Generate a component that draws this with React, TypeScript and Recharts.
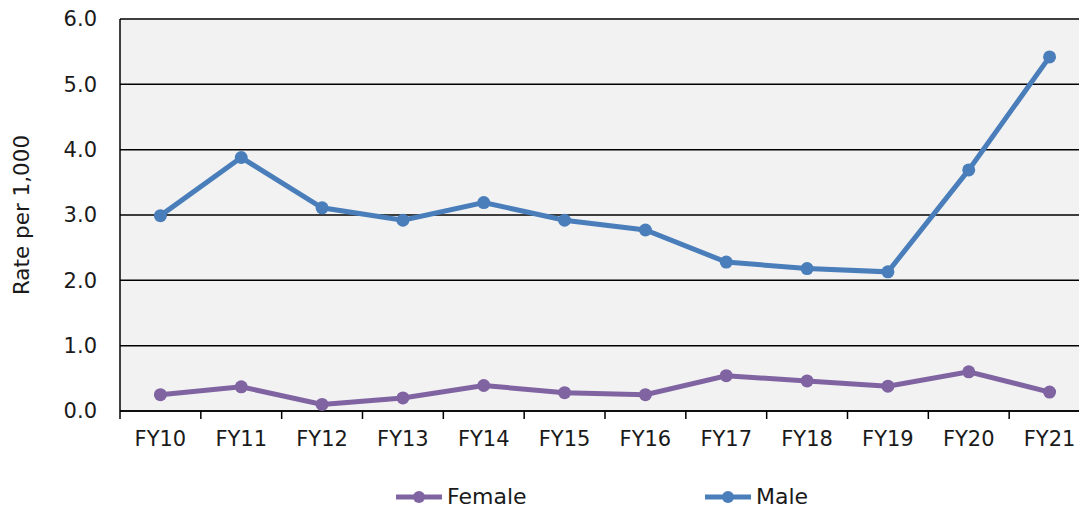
import React from 'react';
import { ComposedChart, Line, XAxis, YAxis, CartesianGrid, Legend } from 'recharts';

const categories = ['FY10', 'FY11', 'FY12', 'FY13', 'FY14', 'FY15', 'FY16', 'FY17', 'FY18', 'FY19', 'FY20', 'FY21'];
const femaleValues = [0.25, 0.37, 0.1, 0.2, 0.39, 0.28, 0.25, 0.54, 0.46, 0.38, 0.6, 0.29];
const maleValues = [2.99, 3.88, 3.11, 2.92, 3.19, 2.92, 2.77, 2.28, 2.18, 2.13, 3.69, 5.42];
const yTicks = [0, 1, 2, 3, 4, 5, 6];

const FEMALE_COLOR = '#8064A2';
const MALE_COLOR = '#4A7EBB';
const FONT = '"DejaVu Sans", Verdana, sans-serif';

const CHART_W = 1100;
const CHART_H = 509;
const MARGIN = { top: 19, right: 10, left: 0, bottom: 0 };
const Y_AXIS_W = 120;
const BAND = (CHART_W - MARGIN.left - MARGIN.right - Y_AXIS_W) / categories.length;

const data = categories.map((name, i) => ({ name, Female: femaleValues[i], Male: maleValues[i] }));

const XTick = (props: any) => {
  const { x, y, payload } = props;
  return (
    <g>
      <line x1={x - BAND / 2} x2={x - BAND / 2} y1={y} y2={y + 8} stroke="#000" strokeWidth={1.5} />
      <text x={x} y={y + 20} dy="0.71em" textAnchor="middle" fontSize={21} fontFamily={FONT} fill="#1a1a1a">
        {payload.value}
      </text>
    </g>
  );
};

const YLabel = (props: any) => {
  const vb = props.viewBox || {};
  const cx = 21;
  const cy = (vb.y ?? 0) + (vb.height ?? 0) / 2;
  return (
    <text
      x={cx}
      y={cy}
      transform={`rotate(-90, ${cx}, ${cy})`}
      textAnchor="middle"
      dominantBaseline="central"
      fontSize={21.5}
      fontFamily={FONT}
      fill="#1a1a1a"
    >
      Rate per 1,000
    </text>
  );
};

const LegendItem = ({ color, label, left }: { color: string; label: string; left: number }) => (
  <div style={{ position: 'absolute', left, top: 16, display: 'flex', alignItems: 'center' }}>
    <svg width={46} height={14} style={{ marginRight: 5 }}>
      <line x1={0} x2={46} y1={7} y2={7} stroke={color} strokeWidth={5} />
      <circle cx={23} cy={7} r={6} fill={color} />
    </svg>
    <span style={{ fontFamily: FONT, fontSize: 22, color: '#1a1a1a', lineHeight: '24px' }}>{label}</span>
  </div>
);

const renderLegend = () => (
  <div style={{ position: 'relative', width: '100%', height: 40 }}>
    <LegendItem color={FEMALE_COLOR} label="Female" left={396} />
    <LegendItem color={MALE_COLOR} label="Male" left={705} />
  </div>
);

export default function App() {
  return (
    <div style={{ position: 'absolute', left: 0, top: 0, width: 1079, height: 509, overflow: 'hidden', background: '#fff' }}>
      <ComposedChart width={CHART_W} height={CHART_H} data={data} margin={MARGIN}>
        <CartesianGrid horizontal vertical={false} stroke="#000" strokeWidth={1.5} fill="#F2F2F2" />
        <XAxis
          dataKey="name"
          height={58}
          padding={{ left: BAND / 2, right: BAND / 2 }}
          axisLine={{ stroke: '#000', strokeWidth: 1.5 }}
          tickLine={false}
          tickSize={0}
          tickMargin={0}
          interval={0}
          tick={<XTick />}
        />
        <YAxis
          width={Y_AXIS_W}
          domain={[0, 6]}
          ticks={yTicks}
          interval={0}
          axisLine={{ stroke: '#000', strokeWidth: 1.5 }}
          tickLine={false}
          tickSize={0}
          tickMargin={23}
          tickFormatter={(v: number) => v.toFixed(1)}
          tick={{ fontSize: 21, fontFamily: FONT, fill: '#1a1a1a' }}
          label={<YLabel />}
        />
        <Legend verticalAlign="bottom" height={40} wrapperStyle={{ height: 40 }} content={renderLegend} />
        <Line
          type="linear"
          dataKey="Female"
          stroke={FEMALE_COLOR}
          strokeWidth={5}
          dot={{ r: 6.5, fill: FEMALE_COLOR, stroke: FEMALE_COLOR, strokeWidth: 0 }}
          activeDot={false}
          isAnimationActive={false}
        />
        <Line
          type="linear"
          dataKey="Male"
          stroke={MALE_COLOR}
          strokeWidth={5}
          dot={{ r: 6.5, fill: MALE_COLOR, stroke: MALE_COLOR, strokeWidth: 0 }}
          activeDot={false}
          isAnimationActive={false}
        />
      </ComposedChart>
    </div>
  );
}
